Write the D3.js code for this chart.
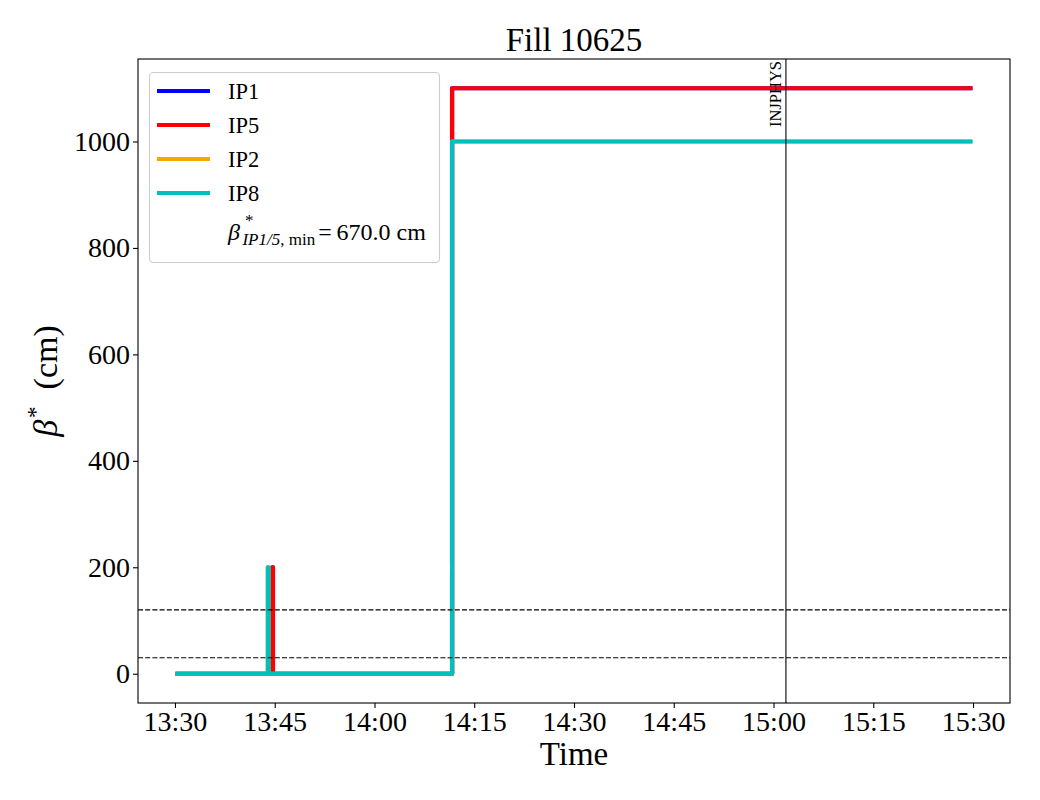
<!DOCTYPE html>
<meta charset="utf-8">
<style>
body { margin: 0; background: #fff; }
text { font-family: "Liberation Serif", "DejaVu Serif", serif; fill: #000; }
.axis .domain { display: none; }
.axis line { stroke: #000; stroke-width: 1.1px; }
.axis text { font-size: 28px; font-family: "Liberation Serif", serif; }
.ipline { fill: none; stroke-width: 4.2px; stroke-linejoin: round; stroke-linecap: square; }
</style>
<body>
<script src="https://cdn.jsdelivr.net/npm/d3@7"></script>
<script>

// beta* per IP, step data (value holds until next time stamp)
var ip15Times = ["13:30:24", "13:44:38", "13:44:44", "14:11:40", "15:29:36"];
var ip1Values = [0, 200, 0, 1100, 1100];
var ip5Values = [0, 200, 0, 1100, 1100];
var ip28Times = ["13:30:24", "13:43:58", "13:44:04", "14:11:40", "15:29:36"];
var ip2Values = [0, 200, 0, 1000, 1000];
var ip8Values = [0, 200, 0, 1000, 1000];

var xTickLabels = ["13:30", "13:45", "14:00", "14:15", "14:30", "14:45", "15:00", "15:15", "15:30"];
var yTicks = [0, 200, 400, 600, 800, 1000];
var hLines = [120, 30];
var modeTime = "15:01:52", modeName = "INJPHYS";
var betaMin = "670.0";

var parseTime = d3.timeParse("%H:%M:%S");

var series = [
  {name: "IP1", color: "#0000ff", times: ip15Times, values: ip1Values},
  {name: "IP5", color: "#ff0000", times: ip15Times, values: ip5Values},
  {name: "IP2", color: "#ffa500", times: ip28Times, values: ip2Values},
  {name: "IP8", color: "#00bfbf", times: ip28Times, values: ip8Values}
];
series.forEach(function(s) {
  s.data = s.times.map(function(t, i) { return {time: parseTime(t), value: s.values[i]}; });
});

// the axes box
var box = {left: 138, right: 1010, top: 59, bottom: 703};

var svg = d3.select("body").append("svg")
    .attr("width", 1040)
    .attr("height", 800);

// x range with 5% padding like matplotlib
var allTimes = [].concat.apply([], series.map(function(s) { return s.data.map(function(d) { return d.time; }); }));
var ext = d3.extent(allTimes);
var pad = (ext[1] - ext[0]) * 0.05;
var x = d3.scaleTime()
    .domain([new Date(+ext[0] - pad), new Date(+ext[1] + pad)])
    .range([box.left, box.right]);

var ymax = d3.max(series, function(s) { return d3.max(s.values); });
var y = d3.scaleLinear()
    .domain([-ymax * 0.05, ymax * 1.05])
    .range([box.bottom, box.top]);

var line = d3.line()
    .curve(d3.curveStepAfter)
    .x(function(d) { return x(d.time); })
    .y(function(d) { return y(d.value); });

svg.selectAll(".ipline")
    .data(series)
  .enter().append("path")
    .attr("class", "ipline")
    .attr("stroke", function(d) { return d.color; })
    .attr("d", function(d) { return line(d.data); });

// reference lines
svg.selectAll(".hline")
    .data(hLines)
  .enter().append("line")
    .attr("class", "hline")
    .attr("x1", box.left).attr("x2", box.right)
    .attr("y1", function(d) { return y(d); })
    .attr("y2", function(d) { return y(d); })
    .attr("stroke", "#000")
    .attr("stroke-width", 1.1)
    .attr("stroke-dasharray", "5,2.2");

var mx = x(parseTime(modeTime));
svg.append("line")
    .attr("x1", mx).attr("x2", mx)
    .attr("y1", box.top).attr("y2", box.bottom)
    .attr("stroke", "#000")
    .attr("stroke-width", 1.1);
svg.append("text")
    .attr("transform", "translate(" + (mx - 5) + "," + (box.top + 2) + ") rotate(-90)")
    .attr("text-anchor", "end")
    .style("font-size", "16.5px")
    .text(modeName);

// axes
svg.append("g")
    .attr("class", "axis")
    .attr("transform", "translate(0," + box.bottom + ")")
    .call(d3.axisBottom(x)
      .tickValues(xTickLabels.map(function(t) { return parseTime(t + ":00"); }))
      .tickFormat(d3.timeFormat("%H:%M"))
      .tickSize(5).tickPadding(3));

svg.append("g")
    .attr("class", "axis")
    .attr("transform", "translate(" + box.left + ",0)")
    .call(d3.axisLeft(y).tickValues(yTicks).tickFormat(d3.format("d")).tickSize(5).tickPadding(3));

svg.append("rect")
    .attr("x", box.left).attr("y", box.top)
    .attr("width", box.right - box.left).attr("height", box.bottom - box.top)
    .attr("fill", "none")
    .attr("stroke", "#000")
    .attr("stroke-width", 1.1);

// title and labels
svg.append("text")
    .attr("x", (box.left + box.right) / 2).attr("y", 51)
    .attr("text-anchor", "middle")
    .style("font-size", "33px")
    .text("Fill 10625");

svg.append("text")
    .attr("x", (box.left + box.right) / 2).attr("y", 765)
    .attr("text-anchor", "middle")
    .style("font-size", "33px")
    .text("Time");

var yl = svg.append("text")
    .attr("transform", "translate(57," + (box.top + box.bottom) / 2 + ") rotate(-90)")
    .attr("text-anchor", "middle")
    .style("font-size", "34px");
yl.append("tspan").style("font-style", "italic").text("β");
yl.append("tspan").attr("dx", 2).attr("dy", -14).style("font-size", "23px").text("*");
yl.append("tspan").attr("dy", 14).text("\u2002(cm)");

// legend
var lg = svg.append("g");
lg.append("rect")
    .attr("x", 149.5).attr("y", 72.5)
    .attr("width", 290).attr("height", 190)
    .attr("rx", 4)
    .attr("fill", "#fff").attr("fill-opacity", 0.8)
    .attr("stroke", "#cccccc").attr("stroke-width", 1.1);

var item = lg.selectAll(".item")
    .data(series)
  .enter().append("g")
    .attr("class", "item")
    .attr("transform", function(d, i) { return "translate(0," + (91 + i * 34) + ")"; });
item.append("line")
    .attr("x1", 157).attr("x2", 210)
    .attr("stroke", function(d) { return d.color; })
    .attr("stroke-width", 4.2);
item.append("text")
    .attr("x", 228).attr("y", 8)
    .style("font-size", "22.5px")
    .text(function(d) { return d.name; });

var bt = lg.append("text")
    .attr("x", 228).attr("y", 240)
    .style("font-size", "24px");
bt.append("tspan").style("font-style", "italic").text("β");
bt.append("tspan").attr("dx", 5).attr("dy", -14).style("font-size", "17px").text("*");
bt.append("tspan").attr("dx", -11).attr("dy", 19).style("font-size", "17px").style("font-style", "italic").text("IP1/5");
bt.append("tspan").style("font-size", "17px").text(", min");
bt.append("tspan").attr("dx", 3).attr("dy", -5).text("=\u2009" + betaMin + " cm");

</script>
</body>
